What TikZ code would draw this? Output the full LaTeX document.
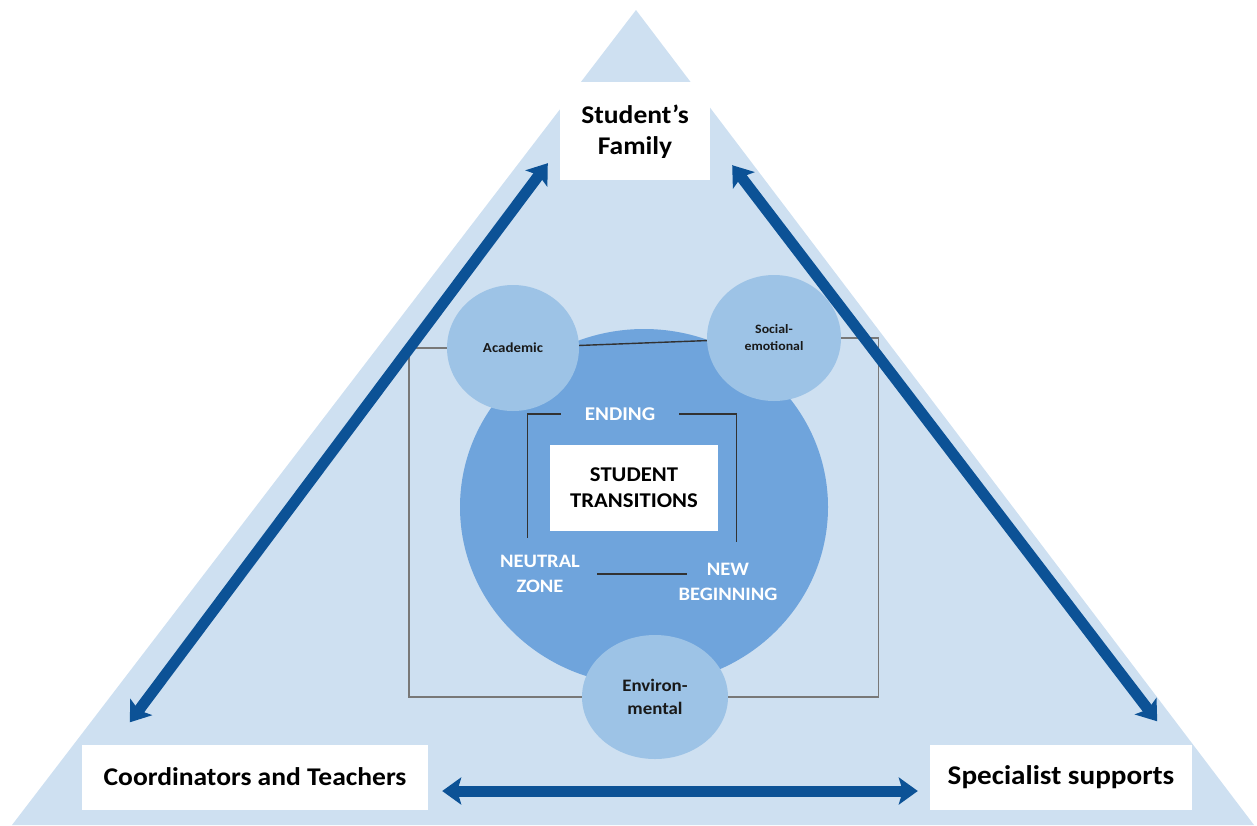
\documentclass[tikz,border=0pt]{standalone}
\usepackage{fontspec}
\setmainfont{Carlito}[FakeStretch=1.08]
\usetikzlibrary{positioning,arrows.meta,shapes.geometric}

\definecolor{triblue}{RGB}{206,224,241}
\definecolor{coreblue}{RGB}{111,164,220}
\definecolor{bubblue}{RGB}{157,195,230}
\definecolor{arrowblue}{RGB}{12,82,150}
\definecolor{linegray}{RGB}{120,120,120}
\definecolor{linedark}{RGB}{50,50,50}

\begin{document}
\begin{tikzpicture}[x=1pt,y=-1pt,
	box/.style={fill=white,rectangle,inner sep=0pt,align=center,font=\bfseries\fontsize{25.5}{31}\selectfont},
	bubble/.style={ellipse,fill=bubblue,inner sep=0pt,align=center,text=black!90},
	zone/.style={inner sep=0pt,align=center,text=white,font=\bfseries\fontsize{19}{25}\selectfont},
	link/.style={draw=linegray,line width=1.4pt},
	bracket/.style={draw=linedark,line width=1.4pt},
	twoway/.style={draw=arrowblue,line width=11pt,{Stealth[length=19pt,width=27pt,inset=4pt]}-{Stealth[length=19pt,width=27pt,inset=4pt]}}]
\useasboundingbox (0,0) rectangle (1257,825);
\fill[triblue] (636,10) -- (1254,825) -- (12,825) -- cycle;

\node[ellipse,fill=coreblue,minimum width=368,minimum height=356] (core) at (644,507) {};

\foreach \x/\y/\w/\h/\f/\l/\n/\t in {513/348/132/126/13.8/17/acad/Academic,774/338/134/126/12.8/17/social/{Social-\\emotional},655/697/146/124/17.5/23/env/{Environ-\\mental}}
	\node[bubble,minimum width=\w,minimum height=\h,font=\bfseries\fontsize{\f}{\l}\selectfont] (\n) at (\x,\y) {\t};

% frame round the three areas
\draw[link] (acad.west) -- ++(-38,0) |- (env.west);
\draw[link] (social.east) -- ++(37,0) |- (env.east);
\draw[bracket] (acad) -- (social);

\node[zone,inner xsep=24pt,font=\bfseries\fontsize{19.5}{25}\selectfont] (ending) at (620,414) {ENDING};
\node[zone] (neutral) at (540,574) {NEUTRAL\\ZONE};
\node[zone] (newbeg) at (728,582) {NEW\\BEGINNING};
\draw[bracket] (ending.west) -- ++(-33,0) -- ++(0,124);
\draw[bracket] (ending.east) -- ++(57,0) -- ++(0,128);
\draw[bracket] ([xshift=17pt]neutral.east) -- ++(90,0);

\node[box,minimum width=168,minimum height=86,font=\bfseries\fontsize{21}{26}\selectfont] (trans) at (634,488) {STUDENT\\TRANSITIONS};

\node[box,minimum width=150,minimum height=98,text depth=2pt] (family) at (635,131) {Student’s\\Family};
\node[box,minimum width=346,minimum height=65] (coord) at (255,777) {Coordinators and Teachers};
\node[box,minimum width=262,minimum height=65,font=\bfseries\fontsize{27}{31}\selectfont] (special) at (1061,777) {Specialist supports};

\draw[twoway] ([shift={(48,-22)}]coord.north west) -- ([shift={(-12,-17)}]family.south west);
\draw[twoway] ([shift={(22,-15)}]family.south east) -- ([shift={(-35,-23)}]special.north east);
\draw[twoway] ([shift={(14,14)}]coord.east) -- ([shift={(-12,14)}]special.west);

\end{tikzpicture}
\end{document}
